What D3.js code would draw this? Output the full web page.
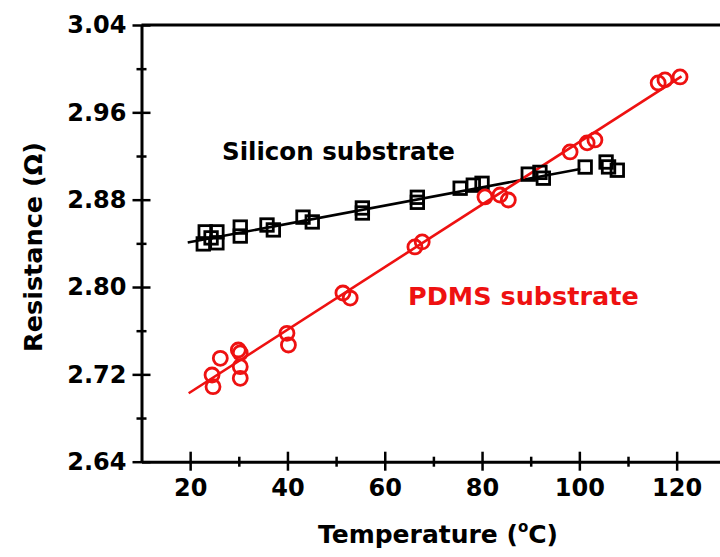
<!DOCTYPE html>
<html>
<head>
<meta charset="utf-8">
<script src="https://cdn.jsdelivr.net/npm/d3@7"></script>
<style>
html,body{margin:0;padding:0;background:#fff;}
svg{display:block;}
</style>
</head>
<body>
<svg id="chart" width="720" height="557"></svg>
<script>
// ---- data ----
const siliconT = [22.7, 23.1, 25.5, 25.5, 24.3, 30.3, 30.3, 35.8, 37.1, 43.2, 45.1, 55.4, 55.4, 66.7, 66.7, 75.5, 78.2, 80.0, 89.5, 92.6, 91.9, 101.2, 105.5, 106.0, 107.8];
const siliconR = [2.8395, 2.8505, 2.8505, 2.8405, 2.8450, 2.8549, 2.8467, 2.8568, 2.8523, 2.8640, 2.8596, 2.8724, 2.8678, 2.8822, 2.8776, 2.8905, 2.8933, 2.8950, 2.9034, 2.8997, 2.9050, 2.9099, 2.9145, 2.9100, 2.9070];
const pdmsT = [24.5, 24.7, 26.2, 29.9, 30.3, 30.3, 30.3, 39.9, 40.2, 51.4, 52.9, 66.2, 67.7, 80.6, 83.7, 85.4, 98.1, 101.6, 103.2, 116.2, 117.6, 120.7];
const pdmsR = [2.7194, 2.7087, 2.7347, 2.7423, 2.7396, 2.7270, 2.7164, 2.7576, 2.7469, 2.7945, 2.7899, 2.8367, 2.8413, 2.8825, 2.8843, 2.8797, 2.9237, 2.9320, 2.9347, 2.9869, 2.9897, 2.9924];
// linear fit end points
const siliconFitT = [19.5, 100.2];
const siliconFitR = [2.8408, 2.9081];
const pdmsFitT = [19.7, 121.0];
const pdmsFitR = [2.7027, 2.9930];
// ticks
const yMajor = [2.64, 2.72, 2.80, 2.88, 2.96, 3.04];
const yMinor = [2.68, 2.76, 2.84, 2.92, 3.00];
const xMajor = [20, 40, 60, 80, 100, 120];
const xMinor = [30, 50, 70, 90, 110, 130];
const xTitle = "Temperature (";
const yTitle = "Resistance (Ω)";
const labelSilicon = "Silicon substrate";
const labelPdms = "PDMS substrate";

// ---- drawing ----
const svg = d3.select("#chart");
const FONT = "'DejaVu Sans', Verdana, sans-serif";
const RED = "#ee1111";
const x = d3.scaleLinear().domain([10, 130]).range([141.5, 725.3]);
const y = d3.scaleLinear().domain([2.64, 3.04]).range([461.7, 25]);

// top frame line
svg.append("line").attr("x1", x(10)).attr("x2", 725).attr("y1", y(3.04)).attr("y2", y(3.04))
  .attr("stroke", "#000").attr("stroke-width", 3);

function styleAxis(g){
  g.select(".domain").attr("stroke", "#000").attr("stroke-width", 3);
  g.selectAll(".tick line").attr("stroke", "#000").attr("stroke-width", 2.5);
}
// y axis
const gy = svg.append("g").attr("transform", `translate(${x(10)},0)`)
  .call(d3.axisLeft(y).tickValues(yMajor).tickSize(9).tickSizeOuter(0).tickFormat(d3.format(".2f")));
styleAxis(gy);
gy.selectAll(".tick line").attr("x1", 9).attr("x2", -9);
gy.selectAll(".tick text").attr("x", -15).attr("font-family", FONT).attr("font-size", 24)
  .attr("font-weight", "bold").attr("fill", "#000");
const gym = svg.append("g").attr("transform", `translate(${x(10)},0)`)
  .call(d3.axisLeft(y).tickValues(yMinor).tickSize(5).tickFormat(""));
gym.select(".domain").remove();
gym.selectAll(".tick line").attr("x1", 5).attr("x2", -5).attr("stroke", "#000").attr("stroke-width", 2.5);

// x axis
const gx = svg.append("g").attr("transform", `translate(0,${y(2.64)})`)
  .call(d3.axisBottom(x).tickValues(xMajor).tickSize(9).tickSizeOuter(0));
styleAxis(gx);
gx.selectAll(".tick line").attr("y1", -10).attr("y2", 9);
gx.selectAll(".tick text").attr("y", 17).attr("font-family", FONT).attr("font-size", 24)
  .attr("font-weight", "bold").attr("fill", "#000");
const gxm = svg.append("g").attr("transform", `translate(0,${y(2.64)})`)
  .call(d3.axisBottom(x).tickValues(xMinor).tickSize(5).tickFormat(""));
gxm.select(".domain").remove();
gxm.selectAll(".tick line").attr("y1", -5).attr("y2", 5).attr("stroke", "#000").attr("stroke-width", 2.5);

// fit lines
const line = d3.line().x(d => x(d[0])).y(d => y(d[1]));
svg.append("path").datum(d3.zip(siliconFitT, siliconFitR)).attr("d", line)
  .attr("fill", "none").attr("stroke", "#000").attr("stroke-width", 2.6);
svg.append("path").datum(d3.zip(pdmsFitT, pdmsFitR)).attr("d", line)
  .attr("fill", "none").attr("stroke", RED).attr("stroke-width", 2.6);

// silicon squares
const sq = 12.5;
svg.append("g").selectAll("rect").data(d3.zip(siliconT, siliconR)).join("rect")
  .attr("x", d => x(d[0]) - sq/2).attr("y", d => y(d[1]) - sq/2)
  .attr("width", sq).attr("height", sq)
  .attr("fill", "none").attr("stroke", "#000").attr("stroke-width", 2.8);

// pdms circles
svg.append("g").selectAll("circle").data(d3.zip(pdmsT, pdmsR)).join("circle")
  .attr("cx", d => x(d[0])).attr("cy", d => y(d[1])).attr("r", 7)
  .attr("fill", "none").attr("stroke", RED).attr("stroke-width", 2.8);

// series labels
svg.append("text").attr("x", 222).attr("y", 160).text(labelSilicon)
  .attr("font-family", FONT).attr("font-size", 24.5).attr("font-weight", "bold").attr("fill", "#000");
svg.append("text").attr("x", 408).attr("y", 305).text(labelPdms)
  .attr("font-family", FONT).attr("font-size", 25.5).attr("font-weight", "bold").attr("fill", RED);

// axis titles
const xt = svg.append("text").attr("x", 438).attr("y", 543).attr("text-anchor", "middle")
  .attr("font-family", FONT).attr("font-size", 25).attr("font-weight", "bold").attr("fill", "#000");
xt.append("tspan").text(xTitle);
xt.append("tspan").text("o").attr("font-size", 15).attr("dy", -11);
xt.append("tspan").text("C)").attr("dy", 11);

svg.append("text").attr("transform", "translate(42,247) rotate(-90)").attr("text-anchor", "middle")
  .text(yTitle).attr("font-family", FONT).attr("font-size", 25.5).attr("font-weight", "bold").attr("fill", "#000");
</script>
</body>
</html>
